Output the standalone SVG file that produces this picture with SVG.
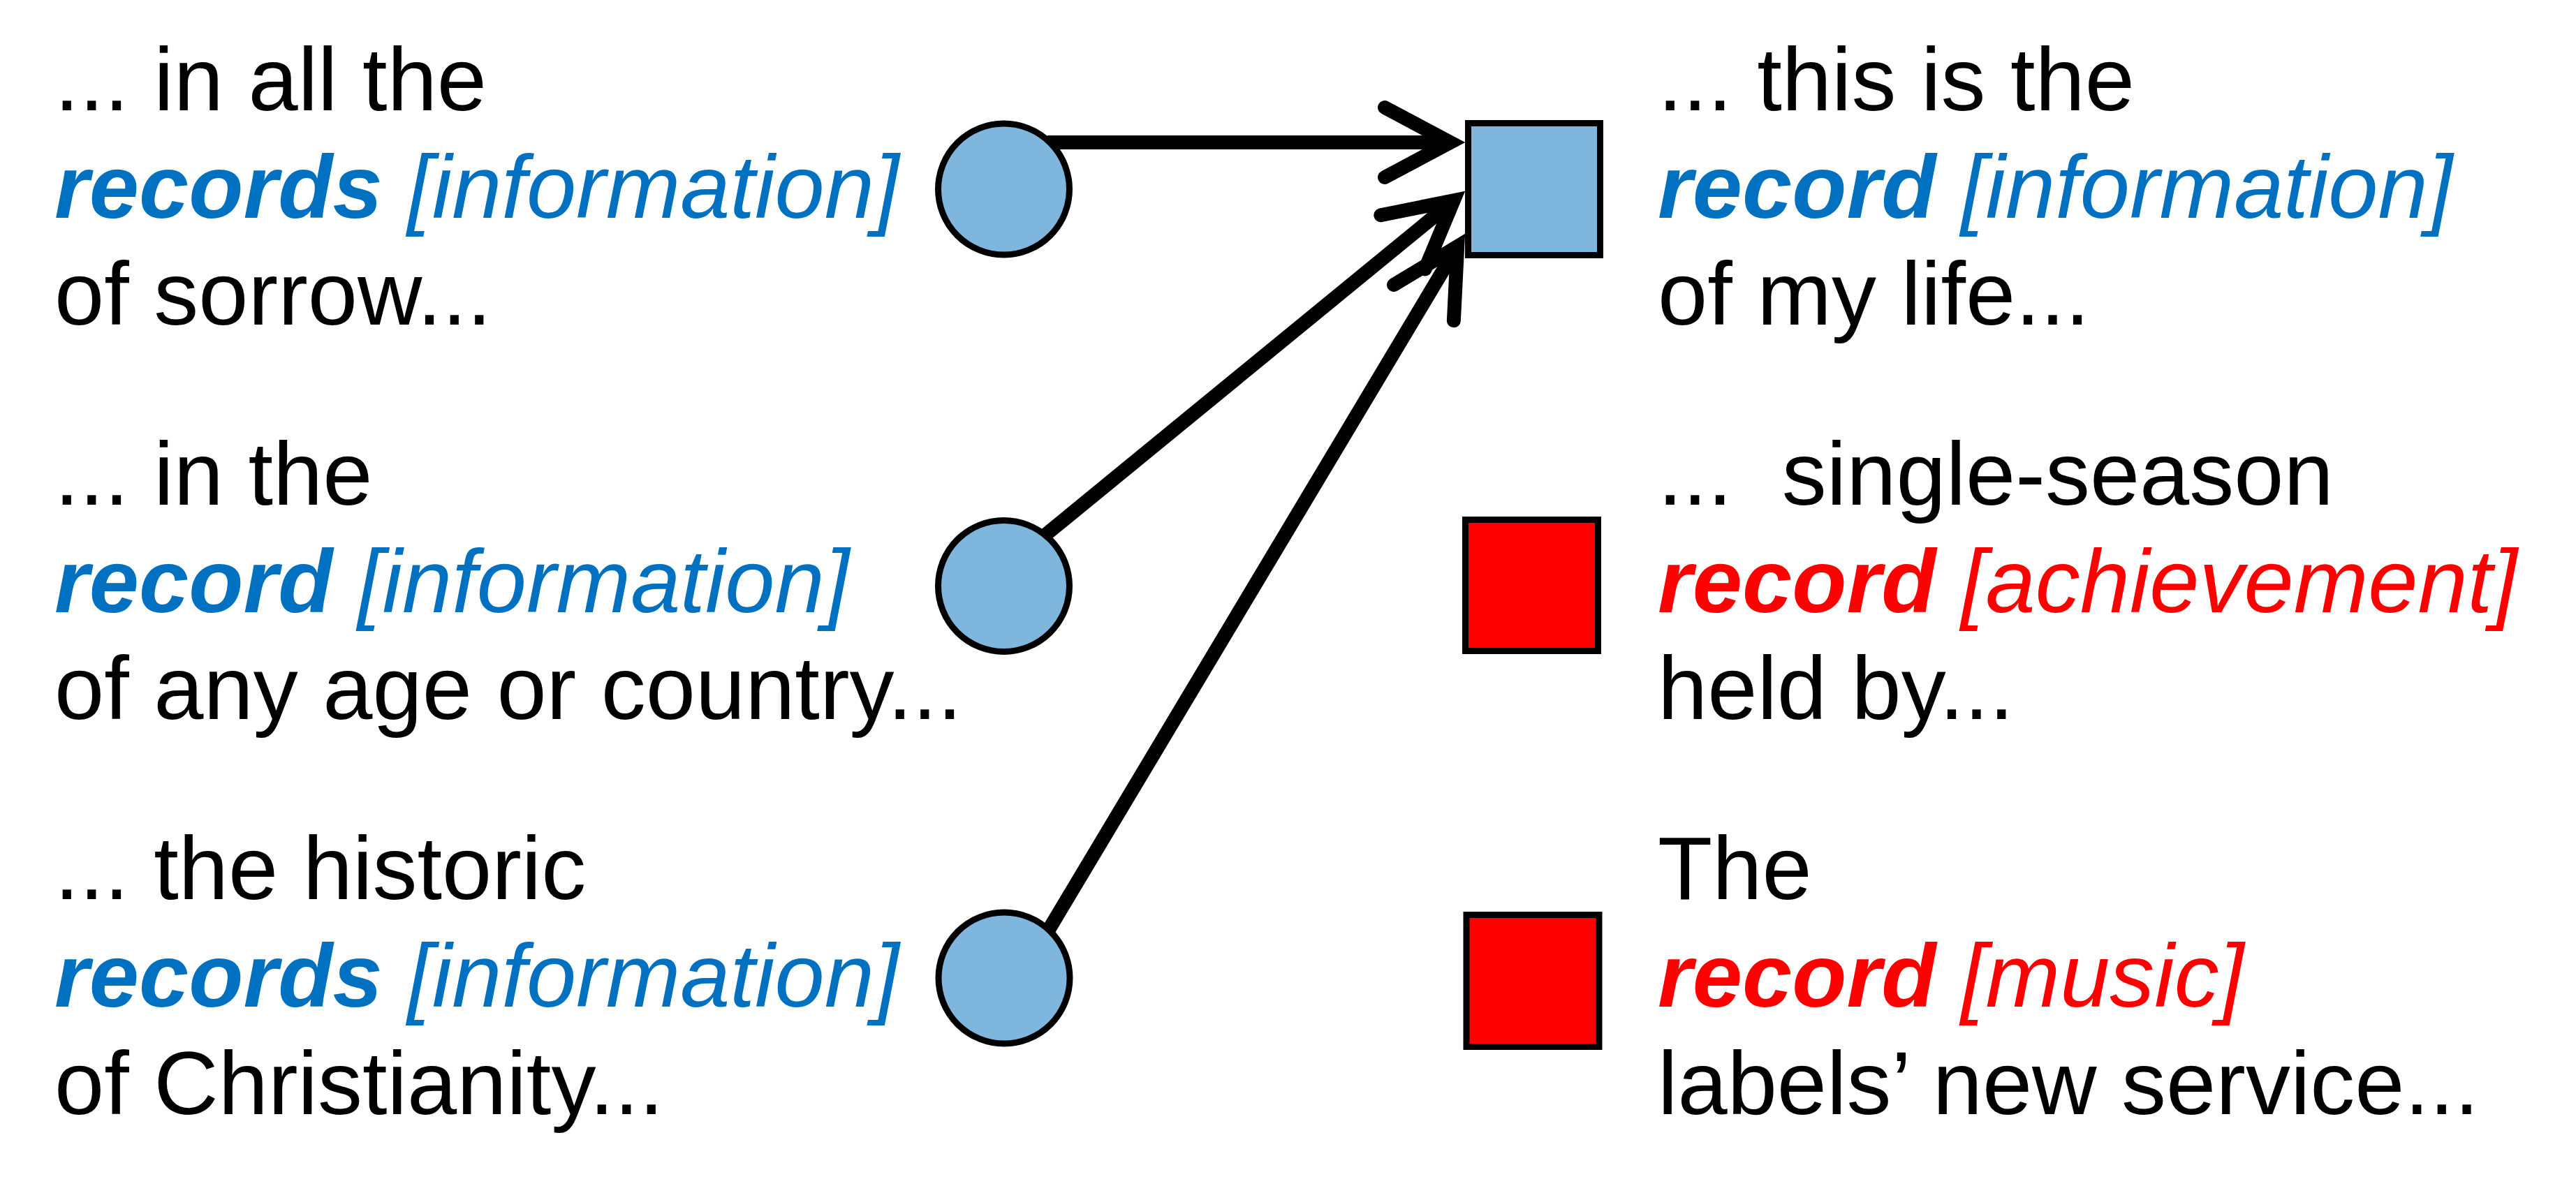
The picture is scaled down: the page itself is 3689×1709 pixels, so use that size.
<svg xmlns="http://www.w3.org/2000/svg" width="3689" height="1709" viewBox="0 0 3689 1709">
<style>
text{font-family:"Liberation Sans",Arial,Helvetica,sans-serif;font-size:128px;fill:#000}
.bb{font-weight:bold;font-style:italic;fill:#0070C0}
.bi{font-style:italic;fill:#0070C0}
.rb{font-weight:bold;font-style:italic;fill:#FF0000}
.ri{font-style:italic;fill:#FF0000}
.info{fill:#7FB6DE;stroke:#000;stroke-width:9}
.ach{fill:#FF0000;stroke:#000;stroke-width:9}
.edge{fill:none;stroke:#000;stroke-width:20}
</style>
<defs>
<marker id="arr" markerUnits="userSpaceOnUse" markerWidth="240" markerHeight="240" refX="0" refY="0" orient="auto" overflow="visible" viewBox="-120 -120 240 240">
<path d="M -94 -50 L 0 0 L -94 50" fill="none" stroke="#000" stroke-width="20" stroke-linecap="round" stroke-linejoin="miter" stroke-miterlimit="10"/>
</marker>
</defs>
<rect width="3689" height="1709" fill="#fff"/>
<g id="connectors">
<path class="edge" d="M 1500 204 L 2077 204" marker-end="url(#arr)"/>
<path class="edge" d="M 1495 768 L 2081.7 287.3" marker-end="url(#arr)"/>
<path class="edge" d="M 1500 1335 L 2087.2 353" marker-end="url(#arr)"/>
</g>
<g id="n1">
<circle class="info" cx="1437.5" cy="271" r="94"/>
<text x="78" y="158">... in all the</text>
<text x="78" y="312"><tspan class="bb">records</tspan><tspan class="bi"> [information]</tspan></text>
<text x="78" y="465">of sorrow...</text>
</g>
<g id="n2">
<circle class="info" cx="1437.5" cy="839.5" r="94"/>
<text x="78" y="723">... in the</text>
<text x="78" y="877"><tspan class="bb">record</tspan><tspan class="bi"> [information]</tspan></text>
<text x="78" y="1030">of any age or country...</text>
</g>
<g id="n3">
<circle class="info" cx="1438" cy="1401" r="94"/>
<text x="78" y="1288">... the historic</text>
<text x="78" y="1442"><tspan class="bb">records</tspan><tspan class="bi"> [information]</tspan></text>
<text x="78" y="1596">of Christianity...</text>
</g>
<g id="n4">
<rect class="info" x="2102.5" y="176.5" width="189" height="189"/>
<text x="2374" y="158">... this is the</text>
<text x="2374" y="312"><tspan class="bb">record</tspan><tspan class="bi"> [information]</tspan></text>
<text x="2374" y="465">of my life...</text>
</g>
<g id="n5">
<rect class="ach" x="2098.5" y="744.5" width="190" height="188"/>
<text x="2374" y="723" xml:space="preserve">...  single-season</text>
<text x="2374" y="877"><tspan class="rb">record</tspan><tspan class="ri"> [achievement]</tspan></text>
<text x="2374" y="1030">held by...</text>
</g>
<g id="n6">
<rect class="ach" x="2100" y="1310.5" width="190" height="189"/>
<text x="2374" y="1288">The</text>
<text x="2374" y="1442"><tspan class="rb">record</tspan><tspan class="ri"> [music]</tspan></text>
<text x="2374" y="1596">labels’ new service...</text>
</g>
</svg>
